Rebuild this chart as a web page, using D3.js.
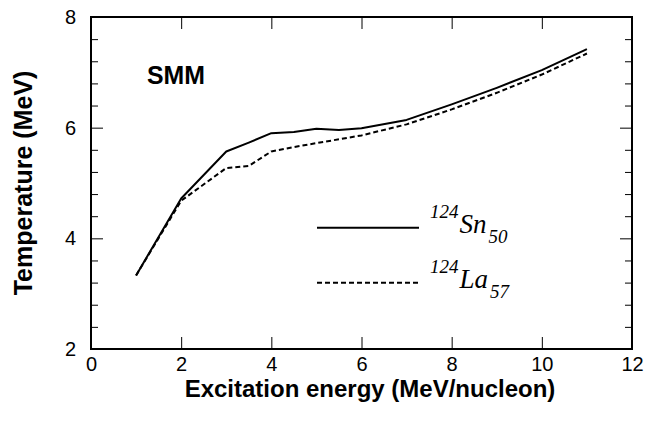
<!DOCTYPE html>
<html>
<head>
<meta charset="utf-8">
<script src="https://cdn.jsdelivr.net/npm/d3@7"></script>
<style>
  html, body { margin: 0; padding: 0; background: #fff; }
  svg { display: block; }
</style>
</head>
<body>
<svg id="chart" width="646" height="421"></svg>
<script>
// ---- data ----
const energy = [1, 2, 3, 3.5, 4, 4.5, 5, 5.5, 6, 7, 8, 9, 10, 11];
const tempSn = [3.33, 4.72, 5.57, 5.73, 5.90, 5.92, 5.98, 5.96, 5.99, 6.14, 6.42, 6.72, 7.04, 7.42];
const tempLa = [3.33, 4.68, 5.27, 5.31, 5.57, 5.65, 5.72, 5.79, 5.86, 6.06, 6.33, 6.63, 6.96, 7.34];
const xTicks = [0, 2, 4, 6, 8, 10, 12];
const yTicks = [2, 4, 6, 8];
const yMinorTicks = [2.4, 2.8, 3.2, 3.6, 4.4, 4.8, 5.2, 5.6, 6.4, 6.8, 7.2, 7.6];
const seriesNames = [
  { mass: "124", sym: "Sn", z: "50", dash: null },
  { mass: "124", sym: "La", z: "57", dash: "5,3" }
];
const xTitle = "Excitation energy (MeV/nucleon)";
const yTitle = "Temperature (MeV)";
const label = "SMM";

// ---- layout ----
const L = 91, R = 632, T = 17, B = 349;
const svg = d3.select("#chart");
const x = d3.scaleLinear().domain([0, 12]).range([L, R]);
const y = d3.scaleLinear().domain([2, 8]).range([B, T]);

const tickFont = "'Liberation Sans', Arial, sans-serif";

function styleAxis(g, showText) {
  g.select(".domain").remove();
  g.selectAll(".tick line").attr("stroke", "#000").attr("stroke-width", 1);
  if (!showText) g.selectAll(".tick text").remove();
  else g.selectAll(".tick text").attr("font-family", tickFont).attr("font-size", 20).attr("fill", "#000");
}

// bottom axis with labels
svg.append("g").attr("transform", `translate(0,${B})`)
  .call(d3.axisBottom(x).tickValues(xTicks).tickSize(-12).tickPadding(8).tickFormat(d3.format("d")))
  .call(g => styleAxis(g, true));
// top axis
svg.append("g").attr("transform", `translate(0,${T})`)
  .call(d3.axisTop(x).tickValues(xTicks).tickSize(-12))
  .call(g => styleAxis(g, false));
// left axis with labels
svg.append("g").attr("transform", `translate(${L},0)`)
  .call(d3.axisLeft(y).tickValues(yTicks).tickSize(-12).tickPadding(15).tickFormat(d3.format("d")))
  .call(g => styleAxis(g, true));
svg.append("g").attr("transform", `translate(${L},0)`)
  .call(d3.axisLeft(y).tickValues(yMinorTicks).tickSize(-7))
  .call(g => styleAxis(g, false));
// right axis
svg.append("g").attr("transform", `translate(${R},0)`)
  .call(d3.axisRight(y).tickValues(yTicks).tickSize(-12))
  .call(g => styleAxis(g, false));
svg.append("g").attr("transform", `translate(${R},0)`)
  .call(d3.axisRight(y).tickValues(yMinorTicks).tickSize(-7))
  .call(g => styleAxis(g, false));

// frame
svg.append("rect").attr("x", L).attr("y", T).attr("width", R - L).attr("height", B - T)
  .attr("fill", "none").attr("stroke", "#000").attr("stroke-width", 2);

// lines
const line = d3.line().x(d => x(d[0])).y(d => y(d[1]));
const seriesData = [d3.zip(energy, tempSn), d3.zip(energy, tempLa)];
seriesData.forEach((pts, i) => {
  const p = svg.append("path").datum(pts).attr("d", line)
    .attr("fill", "none").attr("stroke", "#000").attr("stroke-width", 2)
    .attr("stroke-linejoin", "round");
  if (seriesNames[i].dash) p.attr("stroke-dasharray", seriesNames[i].dash);
});

// SMM label
svg.append("text").attr("x", 147).attr("y", 84)
  .attr("font-family", "'Liberation Sans', Arial, sans-serif").attr("font-weight", "bold")
  .attr("font-size", 26).attr("textLength", 58).attr("lengthAdjust", "spacingAndGlyphs")
  .text(label);

// legend
const serif = "'Liberation Serif', 'Times New Roman', serif";
seriesNames.forEach((s, i) => {
  const ly = 227.7 + i * 55;
  const ln = svg.append("line").attr("x1", 317).attr("x2", 419).attr("y1", ly).attr("y2", ly)
    .attr("stroke", "#000").attr("stroke-width", 2);
  if (s.dash) ln.attr("stroke-dasharray", s.dash);
  const base = ly + 5.5;
  const t1 = svg.append("text").attr("x", 430).attr("y", base - 15)
    .attr("font-family", serif).attr("font-style", "italic").attr("font-size", 19).text(s.mass);
  const w1 = t1.node().getComputedTextLength();
  const t2 = svg.append("text").attr("x", 430 + w1 + 1).attr("y", base)
    .attr("font-family", serif).attr("font-style", "italic").attr("font-size", 27).text(s.sym);
  const w2 = t2.node().getComputedTextLength();
  svg.append("text").attr("x", 430 + w1 + 1 + w2 + 2).attr("y", base + 10)
    .attr("font-family", serif).attr("font-style", "italic").attr("font-size", 19).text(s.z);
});

// axis titles
svg.append("text").attr("x", 370).attr("y", 397).attr("text-anchor", "middle")
  .attr("font-family", "'Liberation Sans', Arial, sans-serif").attr("font-weight", "bold")
  .attr("font-size", 24).text(xTitle);
svg.append("text").attr("transform", "translate(32,183) rotate(-90)").attr("text-anchor", "middle")
  .attr("font-family", "'Liberation Sans', Arial, sans-serif").attr("font-weight", "bold")
  .attr("font-size", 25).text(yTitle);
</script>
</body>
</html>
